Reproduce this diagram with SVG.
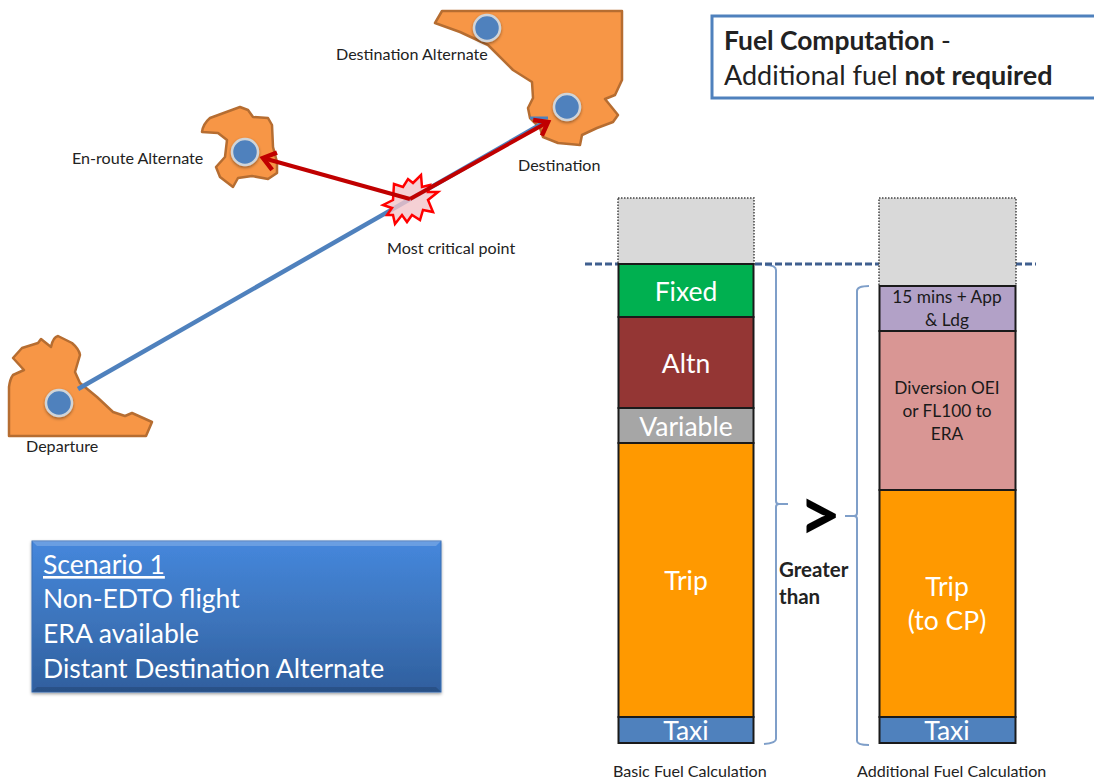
<svg xmlns="http://www.w3.org/2000/svg" width="1094" height="782" viewBox="0 0 1094 782">
<style>
text{font-family:"Lato","Carlito","Open Sans",sans-serif;fill:#222}
.lbl{font-size:16.1px}
.land{fill:#f79646;stroke:#b66d31;stroke-width:2.5;stroke-linejoin:round}
.apt{fill:#4f81bd;stroke:#d0d4d8;stroke-width:2.5;filter:url(#sh)}
.seg{stroke:#1a1a1a;stroke-width:2}
.ghost{fill:#d9d9d9;stroke:#444;stroke-width:1.5;stroke-dasharray:1.5 1.5}
.w{fill:#fff;font-size:26.5px;text-anchor:middle}
.k{font-size:17.3px;text-anchor:middle;fill:#1a1a1a}
.brace{fill:none;stroke:#7f9fc9;stroke-width:2}
.s{fill:#fff;font-size:26.5px}
.b{font-weight:700}
.route{stroke:#4f81bd;stroke-width:4.5;fill:none}
.red{stroke:#c00000;stroke-width:4;fill:none;marker-end:url(#ah)}
</style>
<defs>
<linearGradient id="sc" x1="0" y1="0" x2="0" y2="1"><stop offset="0" stop-color="#4587dc"/><stop offset="0.5" stop-color="#3d75bd"/><stop offset="1" stop-color="#2f5f9e"/></linearGradient>
<filter id="sh" x="-30%" y="-30%" width="160%" height="160%"><feDropShadow dx="0" dy="1.5" stdDeviation="1.5" flood-color="#000" flood-opacity="0.4"/></filter>
<marker id="ah" markerUnits="userSpaceOnUse" markerWidth="24" markerHeight="24" refX="19" refY="12" orient="auto"><path d="M7 3L19 12L7 21" fill="none" stroke="#c00000" stroke-width="4.5"/></marker>
</defs>

<g id="departure">
<path class="land" d="M9 436L9 387Q10 379 13 375L24 370L13 358L22 348L38 343L41 339L51 347Q53 337 58 336L72 343Q79 349 80 355L75 372L80 383L97 397L113 412L125 416L132 413L152 422L146 436Z"/>
<circle class="apt" cx="59" cy="403" r="13"/>
<text class="lbl" x="26" y="452">Departure</text>
</g>
<g id="enroute-alternate">
<path class="land" d="M202 132Q203 124 210 118L240 107L248 110L253 117L268 118L272 125L273 147L277 162L277 173L268 179L252 176L238 178L233 187L220 177L216 167L225 157L227 140L218 133Z"/>
<circle class="apt" cx="245" cy="152" r="13"/>
<text class="lbl" x="72" y="164">En-route Alternate</text>
</g>
<g id="destination-region">
<path class="land" d="M442 11L622 11L622 80L615 95L605 99L618 115L613 122L597 128L582 135L580 145L558 143L543 137L540 128L530 118L528 108L533 98L532 82L513 70L488 45L460 32L435 23Z"/>
</g>
<g id="destination-alternate">
<circle class="apt" cx="487" cy="28" r="13"/>
<text class="lbl" x="336" y="60">Destination Alternate</text>
</g>
<g id="destination">
<circle class="apt" cx="567" cy="107" r="13"/>
<text class="lbl" x="518" y="171">Destination</text>
</g>

<g id="connectors">
<path class="route" d="M78 389L545 122"/>
<path d="M530 118H548" stroke="#4f81bd" stroke-width="3" fill="none"/>
<g id="critical-point">
<polygon points="383,205 393,200 394,184 403,187 408,179 413,183 421,175 422,187 430,185 428,192 438,192 428,200 433,212 423,210 420,220 412,215 407,222 402,215 395,224 393,215 387,215 392,208" fill="#f2c4c9" fill-opacity="0.8" stroke="#ff0000" stroke-width="2.5" stroke-linejoin="miter"/>
<text class="lbl" x="387" y="254">Most critical point</text>
</g>
<path class="red" d="M410 199L548 122"/>
<path class="red" d="M410 199L263 158"/>
<path class="brace" d="M765 265Q776 265 776 270V501Q776 504 779 504H788H779Q776 504 776 507V739Q776 743 764 744"/>
<path class="brace" d="M869 286Q857 286 857 291V513Q857 516 854 516H845H854Q857 516 857 519V741Q857 745 869 745"/>
<path d="M585 264H1036" stroke="#3f5f8f" stroke-width="3" stroke-dasharray="7 3" fill="none"/>
</g>

<g id="basic-fuel">
<rect class="ghost" x="618" y="198" width="136" height="66"/>
<rect class="seg" x="618.500" y="264" width="135" height="53" fill="#00b050"/>
<rect class="seg" x="618.500" y="317" width="135" height="91" fill="#943634"/>
<rect class="seg" x="618.500" y="408" width="135" height="35" fill="#a6a6a6"/>
<rect class="seg" x="618.500" y="443" width="135" height="274" fill="#ff9900"/>
<rect class="seg" x="618.500" y="717" width="135" height="26" fill="#4f81bd"/>
<text class="w" x="686" y="301">Fixed</text>
<text class="w" x="686" y="373">Altn</text>
<text class="w" x="686" y="436">Variable</text>
<text class="w" x="686" y="590">Trip</text>
<text class="w" x="686" y="740">Taxi</text>
<text class="lbl" x="613" y="777">Basic Fuel Calculation</text>
</g>
<g id="additional-fuel">
<rect class="ghost" x="879" y="198" width="137" height="88"/>
<rect class="seg" x="879.500" y="286" width="136" height="45" fill="#b2a1c7"/>
<rect class="seg" x="879.500" y="331" width="136" height="159" fill="#d99694"/>
<rect class="seg" x="879.500" y="490" width="136" height="227" fill="#ff9900"/>
<rect class="seg" x="879.500" y="717" width="136" height="26" fill="#4f81bd"/>
<text class="k" x="947" y="303">15 mins + App</text>
<text class="k" x="947" y="326">&amp; Ldg</text>
<text class="k" x="947" y="394">Diversion OEI</text>
<text class="k" x="947" y="417">or FL100 to</text>
<text class="k" x="947" y="440">ERA</text>
<text class="w" x="947" y="596">Trip</text>
<text class="w" x="947" y="630">(to CP)</text>
<text class="w" x="947" y="740">Taxi</text>
<text class="lbl" x="857" y="777">Additional Fuel Calculation</text>
</g>
<g id="comparison">
<text class="b" x="820" y="541" font-size="74" text-anchor="middle" style="fill:#000">&gt;</text>
<text class="b" x="779" y="577" font-size="20.500">Greater</text>
<text class="b" x="779" y="604" font-size="20.500">than</text>
</g>

<g id="scenario">
<rect x="32" y="541" width="409" height="151" fill="url(#sc)" stroke="#3a6fb5" filter="url(#sh)"/>
<path d="M32 541H441L436 546H37Z" fill="#fff" fill-opacity="0.2"/>
<path d="M32 692H441L436 687H37Z" fill="#000" fill-opacity="0.15"/>
<text class="s" x="43" y="574" text-decoration="underline">Scenario 1</text>
<text class="s" x="43" y="608">Non-EDTO flight</text>
<text class="s" x="43" y="643">ERA available</text>
<text class="s" x="43" y="678">Distant Destination Alternate</text>
</g>
<g id="fuel-computation">
<rect x="712" y="16" width="400" height="82" fill="#fff" stroke="#4f81bd" stroke-width="3"/>
<text x="724" y="50" font-size="26.400"><tspan class="b">Fuel Computation</tspan> -</text>
<text x="724" y="85" font-size="27">Additional fuel <tspan class="b">not required</tspan></text>
</g>
</svg>
